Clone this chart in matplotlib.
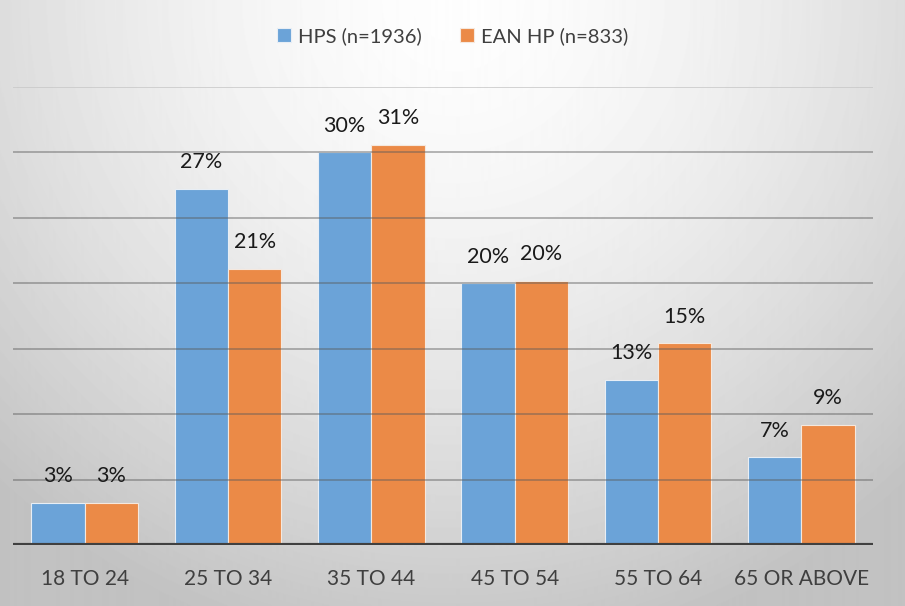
import numpy as np
import matplotlib
matplotlib.use("Agg")
import matplotlib.pyplot as plt

categories = ["18 TO 24", "25 TO 34", "35 TO 44", "45 TO 54", "55 TO 64", "65 OR ABOVE"]
hps = [3.2, 27.2, 30.0, 20.0, 12.6, 6.7]
ean = [3.2, 21.1, 30.6, 20.2, 15.4, 9.2]
series_names = ["HPS (n=1936)", "EAN HP (n=833)"]
colors = ["#6ba3d8", "#eb8a47"]

plt.rcParams["font.family"] = ["Lato", "DejaVu Sans"]

W, H = 905, 606
fig = plt.figure(figsize=(W / 100, H / 100), dpi=100)

# soft radial background, brightest near the top centre
bg = fig.add_axes([0, 0, 1, 1], zorder=-10)
yy, xx = np.mgrid[0:H, 0:W]
r = np.sqrt(((xx - W * 0.5) / (W * 0.7)) ** 2 + ((yy - H * 0.0) / (H * 1.05)) ** 2)
shade = np.clip(0.995 - 0.22 * r ** 1.6, 0.76, 1.0)
bg.imshow(shade, cmap="gray", vmin=0, vmax=1, extent=[0, 1, 0, 1], aspect="auto", origin="upper")
bg.axis("off")

ax = fig.add_axes([13 / W, 1 - 545 / H, 860 / W, (545 - 87) / H])
ax.set_facecolor("none")
x = np.arange(len(categories))
bw = 0.373
b1 = ax.bar(x - bw / 2, hps, bw, color=colors[0], edgecolor="#e8eef5", linewidth=0.8, label=series_names[0], zorder=2)
b2 = ax.bar(x + bw / 2, ean, bw, color=colors[1], edgecolor="#f5e8de", linewidth=0.8, label=series_names[1], zorder=2)

for bars, vals in ((b1, hps), (b2, ean)):
    for rect, v in zip(bars, vals):
        ax.annotate(f"{v:.0f}%", (rect.get_x() + rect.get_width() / 2, v),
                    xytext=(0, 12), textcoords="offset points", ha="center", va="bottom",
                    fontsize=15.5, color="#1a1a1a", zorder=4)

ax.set_ylim(0, 35)
ax.set_xlim(-0.5, len(categories) - 0.5)
for g in np.arange(5, 36, 5):
    ax.axhline(g, color="#5a5a5a" if g < 35 else "#c8c8c8", linewidth=1.1, alpha=0.55 if g < 35 else 1, zorder=3)
ax.axhline(0, color="#404040", linewidth=3, zorder=5)

ax.set_yticks([])
ax.set_xticks(x)
ax.set_xticklabels(categories, fontsize=15, color="#3f3f3f")
ax.tick_params(axis="x", length=0, pad=17)
for s in ax.spines.values():
    s.set_visible(False)

leg = fig.legend(handles=[b1, b2], labels=series_names, loc="center", bbox_to_anchor=(0.5, 1 - 36 / H),
                 ncol=2, frameon=False, fontsize=14.5, handlelength=0.7, handleheight=0.7,
                 handletextpad=0.35, columnspacing=1.9, labelcolor="#3f3f3f")

fig.savefig("out.png", dpi=100)
